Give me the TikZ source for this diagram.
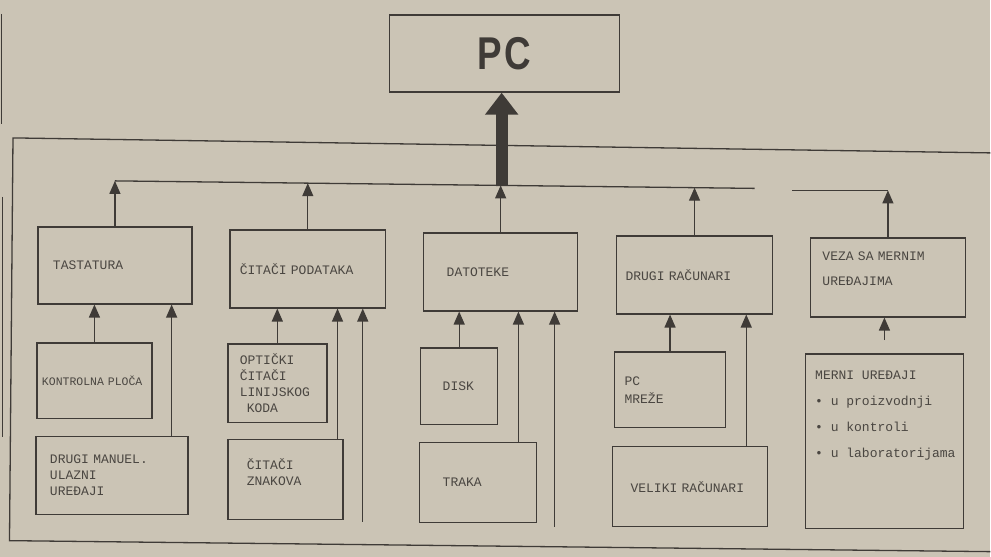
\documentclass[tikz,border=0pt]{standalone}
\usepackage{fontspec}
\usepackage{graphicx}
\usepackage{tikz}
\usetikzlibrary{arrows.meta,positioning,calc}
\newfontfamily\tipfont{Liberation Mono}
\newfontfamily\pcfont{Liberation Sans}
\definecolor{papir}{HTML}{CBC4B5}
\definecolor{crta}{HTML}{3F3B37}
\definecolor{slova}{HTML}{4A4641}

\begin{document}
\begin{tikzpicture}[x=1pt,y=-1pt,
  kutija/.style={draw=crta,line width=1.5pt,align=left,text=slova,inner xsep=1pt,
    font=\tipfont\fontsize{13}{16}\selectfont},
  strel/.style={draw=crta,line width=1.3pt,-{Triangle[width=11pt,length=13pt]}},
  debela/.style={draw=crta,line width=12pt,-{Triangle[width=32pt,length=22pt]}},
  linija/.style={draw=crta,line width=1.3pt}]
\fill[papir] (0,0) rectangle (991,557);
\draw[linija,line width=1pt] (2,14) -- (2,124);
\draw[linija,line width=1pt] (3,197) -- (3,437);

\node[kutija,text=crta,minimum width=230pt,minimum height=77pt] (pc) at (505,53.5) {\pcfont\bfseries\fontsize{46}{46}\selectfont\scalebox{0.8}[1]{P\hspace{3pt}C}};

\node[kutija,minimum width=154pt,minimum height=77pt,text width=124pt] (tast) at (115,265.5) {TASTATURA};
\node[kutija,minimum width=156pt,minimum height=78pt,text width=136pt] (citaci) at (308,269) {ČITAČI PODATAKA};
\node[kutija,minimum width=154pt,minimum height=78pt,text width=108pt] (dat) at (501,272) {DATOTEKE};
\node[kutija,minimum width=156pt,minimum height=78pt,text width=138pt] (drugi) at (695,275) {DRUGI RAČUNARI};
\node[kutija,minimum width=155pt,minimum height=79pt,text width=131pt] (veza) at (888.5,277.5) {VEZA SA MERNIM\\[9pt]UREĐAJIMA\\[2pt]\mbox{}};

\node[kutija,font=\tipfont\fontsize{11.5}{14}\selectfont,minimum width=115pt,minimum height=76pt,text width=105pt] (kontr) at (94.5,381) {KONTROLNA PLOČA};
\node[kutija,minimum width=152pt,minimum height=78pt,text width=124pt] (manuel) at (112,476) {DRUGI MANUEL.\\ULAZNI\\UREĐAJI};
\node[kutija,minimum width=99pt,minimum height=79pt,text width=75pt] (opt) at (277.5,383.5) {OPTIČKI\\ČITAČI\\LINIJSKOG\\\hspace*{7pt}KODA};
\node[kutija,minimum width=115pt,minimum height=80pt,text width=77pt] (znak) at (285.5,480) {ČITAČI\\ZNAKOVA\\\mbox{}};
\node[kutija,minimum width=77pt,minimum height=77pt,text width=33pt] (disk) at (459.5,386.5) {DISK};
\node[kutija,minimum width=117pt,minimum height=80pt,text width=71pt] (traka) at (478.5,483) {TRAKA};
\node[kutija,minimum width=111pt,minimum height=76pt,text width=91pt] (mreze) at (670.5,390) {PC\\[2pt]MREŽE};
\node[kutija,minimum width=155pt,minimum height=80pt,text width=119pt] (veliki) at (690.5,487) {VELIKI RAČUNARI};
\node[kutija,minimum width=158pt,minimum height=175pt] (merni) at (885,441.5) {};
\node[kutija,draw=none,anchor=north west,inner sep=0pt] (merniTxt) at (815,370) {MERNI UREĐAJI\\[10pt]• u proizvodnji\\[10pt]• u kontroli\\[10pt]• u laboratorijama};

\coordinate (o1) at (13,138);
\coordinate (o2) at (991,153);
\coordinate (o3) at (9.5,541);
\coordinate (o4) at (991,552);
\draw[linija] (o2) -- (o1) -- (o3) -- (o4);

\coordinate (b1) at (115,181);
\coordinate (b2) at (308,183.3);
\coordinate (b3) at (502,185.5);
\coordinate (b4) at (695,187.8);
\coordinate (bkraj) at (755,188.5);
\coordinate (v1) at (793,190.5);
\coordinate (b5) at (888.5,190.5);
\draw[linija] (b1) -- (bkraj);
\draw[linija] (v1) -- (b5);

\draw[debela] (b3) -- (b3 |- pc.south);
\draw[strel] (tast.north) -- (tast.north |- b1);
\draw[strel] (citaci.north) -- (citaci.north |- b2);
\draw[strel] (dat.north) -- (dat.north |- b3);
\draw[strel] (drugi.north) -- (drugi.north |- b4);
\draw[strel] (veza.north) -- (veza.north |- b5);

\draw[strel] (kontr.north) -- (kontr.north |- tast.south);
\coordinate (m1) at ([xshift=-17pt]manuel.north east);
\draw[strel] (m1) -- (m1 |- tast.south);
\draw[strel] (opt.north) -- (opt.north |- citaci.south);
\coordinate (z1) at ([xshift=-6pt]znak.north east);
\draw[strel] (z1) -- (z1 |- citaci.south);
\coordinate (c3) at (363,522);
\draw[strel] (c3) -- (c3 |- citaci.south);
\draw[strel] (disk.north) -- (disk.north |- dat.south);
\coordinate (t1) at ([xshift=-19pt]traka.north east);
\draw[strel] (t1) -- (t1 |- dat.south);
\coordinate (d3) at (555,527);
\draw[strel] (d3) -- (d3 |- dat.south);
\draw[strel] (mreze.north) -- (mreze.north |- drugi.south);
\coordinate (r1) at ([xshift=-22pt]veliki.north east);
\draw[strel] (r1) -- (r1 |- drugi.south);
\draw[strel,shorten <=13pt] (merni.north) -- (merni.north |- veza.south);
\end{tikzpicture}
\end{document}
